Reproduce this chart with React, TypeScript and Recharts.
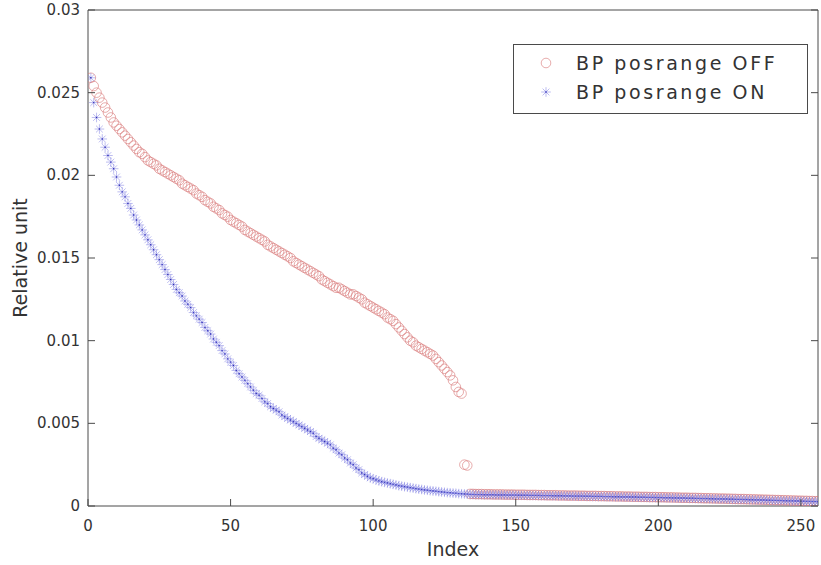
import { Label, Legend, Scatter, ScatterChart, XAxis, YAxis } from 'recharts'

// index 1..256 on the x axis
const offValues = [
  // 1-10
  0.0259, 0.0254, 0.025, 0.0247, 0.0244, 0.0241, 0.0238, 0.0235, 0.0232, 0.023,
  // 11-20
  0.0228, 0.0226, 0.0224, 0.0222, 0.022, 0.0218, 0.0216, 0.0214, 0.0213, 0.0211,
  // 21-30
  0.0209, 0.0208, 0.0207, 0.0206, 0.0204, 0.0203, 0.0202, 0.0201, 0.02, 0.0199,
  // 31-40
  0.0198, 0.0197, 0.0195, 0.0194, 0.0193, 0.0192, 0.0191, 0.0189, 0.0188, 0.0187,
  // 41-50
  0.0185, 0.0184, 0.0183, 0.0181, 0.018, 0.0179, 0.0177, 0.0176, 0.0175, 0.0173,
  // 51-60
  0.0172, 0.0171, 0.017, 0.0169, 0.0167, 0.0166, 0.0165, 0.0164, 0.0163, 0.0162,
  // 61-70
  0.0161, 0.016, 0.0158, 0.0157, 0.0156, 0.0155, 0.0154, 0.0153, 0.0152, 0.0151,
  // 71-80
  0.015, 0.0148, 0.0147, 0.0146, 0.0145, 0.0144, 0.0143, 0.0142, 0.0141, 0.014,
  // 81-90
  0.0139, 0.0137, 0.0136, 0.0135, 0.0134, 0.0133, 0.0132, 0.0132, 0.0131, 0.013,
  // 91-100
  0.0129, 0.0128, 0.0128, 0.0127, 0.0126, 0.0125, 0.0123, 0.0122, 0.0121, 0.012,
  // 101-110
  0.0119, 0.0118, 0.0117, 0.0116, 0.0114, 0.0113, 0.0112, 0.011, 0.0108, 0.0106,
  // 111-120
  0.0104, 0.0102, 0.01, 0.0099, 0.0097, 0.0096, 0.0095, 0.0094, 0.0093, 0.0092,
  // 121-131
  0.0091, 0.0089, 0.0087, 0.0085, 0.0083, 0.0081, 0.0079, 0.0076, 0.0072, 0.0069, 0.0068,
  // 132-133
  0.0025, 0.00245,
  // 134-143
  0.00073, 0.00073, 0.00072, 0.00072, 0.00072, 0.00071, 0.00071, 0.00071, 0.0007, 0.0007,
  // 144-153
  0.0007, 0.0007, 0.00069, 0.00069, 0.00069, 0.00069, 0.00068, 0.00068, 0.00068, 0.00068,
  // 154-163
  0.00067, 0.00067, 0.00067, 0.00067, 0.00066, 0.00066, 0.00066, 0.00065, 0.00065, 0.00065,
  // 164-173
  0.00065, 0.00064, 0.00064, 0.00064, 0.00063, 0.00063, 0.00063, 0.00063, 0.00062, 0.00062,
  // 174-183
  0.00062, 0.00061, 0.00061, 0.00061, 0.00061, 0.0006, 0.0006, 0.0006, 0.00059, 0.00059,
  // 184-193
  0.00059, 0.00058, 0.00058, 0.00058, 0.00057, 0.00057, 0.00057, 0.00056, 0.00056, 0.00056,
  // 194-203
  0.00055, 0.00055, 0.00055, 0.00054, 0.00054, 0.00054, 0.00053, 0.00053, 0.00053, 0.00052,
  // 204-213
  0.00052, 0.00052, 0.00051, 0.00051, 0.0005, 0.0005, 0.0005, 0.00049, 0.00049, 0.00049,
  // 214-223
  0.00048, 0.00048, 0.00047, 0.00047, 0.00047, 0.00046, 0.00046, 0.00045, 0.00045, 0.00045,
  // 224-233
  0.00044, 0.00044, 0.00043, 0.00043, 0.00042, 0.00042, 0.00042, 0.00041, 0.00041, 0.0004,
  // 234-243
  0.0004, 0.00039, 0.00039, 0.00038, 0.00038, 0.00037, 0.00037, 0.00036, 0.00036, 0.00035,
  // 244-253
  0.00035, 0.00034, 0.00034, 0.00033, 0.00033, 0.00032, 0.00032, 0.00031, 0.00031, 0.0003,
  // 254-256
  0.0003, 0.00029, 0.00029,
]

const onValues = [
  // 1-10
  0.0259, 0.0244, 0.0235, 0.0228, 0.0222, 0.0217, 0.0212, 0.0208, 0.0204, 0.0199,
  // 11-20
  0.0194, 0.019, 0.0187, 0.0183, 0.018, 0.0176, 0.0173, 0.017, 0.0167, 0.0164,
  // 21-30
  0.0161, 0.0158, 0.0155, 0.0152, 0.0149, 0.0146, 0.0143, 0.014, 0.0137, 0.0134,
  // 31-40
  0.0131, 0.0129, 0.0127, 0.0124, 0.0122, 0.012, 0.0117, 0.0115, 0.0113, 0.0111,
  // 41-50
  0.0108, 0.0106, 0.0104, 0.0101, 0.0099, 0.0097, 0.0094, 0.0092, 0.0089, 0.0087,
  // 51-60
  0.0085, 0.0082, 0.008, 0.0078, 0.0076, 0.0074, 0.0072, 0.007, 0.0068, 0.0067,
  // 61-70
  0.0065, 0.0063, 0.0062, 0.006, 0.0059, 0.0058, 0.0057, 0.0055, 0.0054, 0.0053,
  // 71-80
  0.0052, 0.0051, 0.005, 0.0049, 0.0048, 0.0047, 0.0046, 0.0045, 0.0044, 0.0042,
  // 81-90
  0.0041, 0.004, 0.0039, 0.0038, 0.0037, 0.0035, 0.0034, 0.0032, 0.0031, 0.0029,
  // 91-100
  0.0028, 0.0026, 0.0025, 0.0023, 0.0022, 0.002, 0.0019, 0.0018, 0.0017, 0.00165,
  // 101-110
  0.00158, 0.00152, 0.00147, 0.00143, 0.00139, 0.00135, 0.00131, 0.00127, 0.00123, 0.0012,
  // 111-120
  0.00117, 0.00114, 0.00111, 0.00108, 0.00105, 0.00102, 0.001, 0.00097, 0.00095, 0.00093,
  // 121-130
  0.00091, 0.00089, 0.00087, 0.00085, 0.00083, 0.00081, 0.0008, 0.00078, 0.00077, 0.00075,
  // 131-133
  0.00074, 0.00073, 0.00072,
  // 134-143
  0.0007, 0.0007, 0.00069, 0.00069, 0.00069, 0.00068, 0.00068, 0.00068, 0.00068, 0.00067,
  // 144-153
  0.00067, 0.00067, 0.00067, 0.00066, 0.00066, 0.00066, 0.00066, 0.00065, 0.00065, 0.00065,
  // 154-163
  0.00065, 0.00064, 0.00064, 0.00064, 0.00064, 0.00063, 0.00063, 0.00063, 0.00063, 0.00062,
  // 164-173
  0.00062, 0.00062, 0.00062, 0.00061, 0.00061, 0.00061, 0.0006, 0.0006, 0.0006, 0.0006,
  // 174-183
  0.00059, 0.00059, 0.00059, 0.00058, 0.00058, 0.00058, 0.00058, 0.00057, 0.00057, 0.00057,
  // 184-193
  0.00056, 0.00056, 0.00056, 0.00055, 0.00055, 0.00055, 0.00054, 0.00054, 0.00054, 0.00053,
  // 194-203
  0.00053, 0.00053, 0.00052, 0.00052, 0.00052, 0.00051, 0.00051, 0.00051, 0.0005, 0.0005,
  // 204-213
  0.0005, 0.00049, 0.00049, 0.00048, 0.00048, 0.00048, 0.00047, 0.00047, 0.00047, 0.00046,
  // 214-223
  0.00046, 0.00045, 0.00045, 0.00045, 0.00044, 0.00044, 0.00043, 0.00043, 0.00043, 0.00042,
  // 224-233
  0.00042, 0.00041, 0.00041, 0.0004, 0.0004, 0.0004, 0.00039, 0.00039, 0.00038, 0.00038,
  // 234-243
  0.00037, 0.00037, 0.00036, 0.00036, 0.00035, 0.00035, 0.00034, 0.00034, 0.00033, 0.00033,
  // 244-253
  0.00032, 0.00032, 0.00031, 0.00031, 0.0003, 0.0003, 0.00029, 0.00029, 0.00028, 0.00028,
  // 254-256
  0.00027, 0.00027, 0.00026,
]

const xTicks = [0, 50, 100, 150, 200, 250]
const yTicks = [0, 0.005, 0.01, 0.015, 0.02, 0.025, 0.03]
const seriesNames = ['BP posrange OFF', 'BP posrange ON']

const offData = offValues.map((v, i) => ({ x: i + 1, y: v }))
const onData = onValues.map((v, i) => ({ x: i + 1, y: v }))

const FONT = '"DejaVu Sans", sans-serif'
const AXIS = '#4a4a4a'
const TEXT = '#333333'
const RED = '#d77373'
const BLUE = '#7a7ae0'

const CircleMark = ({ cx, cy }: any) => (
  <circle cx={cx} cy={cy} r={4.8} fill="none" stroke={RED} strokeWidth={0.6} />
)

const StarMark = ({ cx, cy }: any) => {
  const r = 4.8
  const d = r * 0.707
  return (
    <g stroke={BLUE} strokeWidth={0.5}>
      <line x1={cx - r} y1={cy} x2={cx + r} y2={cy} />
      <line x1={cx} y1={cy - r} x2={cx} y2={cy + r} />
      <line x1={cx - d} y1={cy - d} x2={cx + d} y2={cy + d} />
      <line x1={cx - d} y1={cy + d} x2={cx + d} y2={cy - d} />
      <circle cx={cx} cy={cy} r={0.7} fill="#2b2bb0" stroke="none" />
    </g>
  )
}

const BottomTick = ({ x, y, payload }: any) => (
  <g>
    <line x1={x} y1={y} x2={x} y2={y - 7} stroke={AXIS} />
    <text x={x} y={y + 25} textAnchor="middle" fill={TEXT} fontSize={15} fontFamily={FONT}>
      {payload.value}
    </text>
  </g>
)

const TopTick = ({ x, y }: any) => <line x1={x} y1={y} x2={x} y2={y + 7} stroke={AXIS} />

const LeftTick = ({ x, y, payload }: any) => (
  <g>
    <line x1={x} y1={y} x2={x + 7} y2={y} stroke={AXIS} />
    <text x={x - 8} y={y + 5} textAnchor="end" fill={TEXT} fontSize={15} fontFamily={FONT}>
      {payload.value}
    </text>
  </g>
)

const RightTick = ({ x, y }: any) => <line x1={x} y1={y} x2={x - 7} y2={y} stroke={AXIS} />

const LegendBox = () => (
  <div
    style={{
      width: 295,
      height: 70,
      border: `1px solid ${AXIS}`,
      background: '#fff',
      fontFamily: FONT,
      fontSize: 19,
      letterSpacing: 2.6,
      color: TEXT,
      boxSizing: 'border-box',
      paddingTop: 3,
    }}
  >
    {seriesNames.map((name, i) => (
      <div key={name} style={{ display: 'flex', alignItems: 'center', height: 29 }}>
        <svg width={62} height={20}>
          {i === 0 ? <CircleMark cx={32} cy={10} /> : <StarMark cx={32} cy={10} />}
        </svg>
        <span>{name}</span>
      </div>
    ))}
  </div>
)

export default function App() {
  return (
    <div style={{ position: 'absolute', left: 0, top: 0, width: 821, height: 565, background: '#fff' }}>
      {/* plot box: x 88..818, y 10..506 */}
      <ScatterChart width={821} height={565} margin={{ top: 0, right: 0, bottom: 19, left: 18 }}>
        <XAxis
          type="number"
          dataKey="x"
          domain={[0, 256]}
          ticks={xTicks}
          allowDataOverflow
          height={40}
          tickSize={0}
          tickMargin={0}
          stroke={AXIS}
          tick={<BottomTick />}
        >
          <Label
            content={({ viewBox }: any) => (
              <text
                x={viewBox.x + viewBox.width / 2}
                y={viewBox.y + 50}
                textAnchor="middle"
                fill={TEXT}
                fontSize={19}
                fontFamily={FONT}
              >
                Index
              </text>
            )}
          />
        </XAxis>
        <XAxis
          xAxisId="top"
          orientation="top"
          type="number"
          domain={[0, 256]}
          ticks={xTicks}
          allowDataOverflow
          height={10}
          tickSize={0}
          tickMargin={0}
          stroke={AXIS}
          tick={<TopTick />}
        />
        <YAxis
          type="number"
          dataKey="y"
          domain={[0, 0.03]}
          ticks={yTicks}
          allowDataOverflow
          width={70}
          tickSize={0}
          tickMargin={0}
          stroke={AXIS}
          tick={<LeftTick />}
        >
          <Label
            content={({ viewBox }: any) => {
              const cx = viewBox.x + viewBox.width - 68
              const cy = viewBox.y + viewBox.height / 2
              return (
                <text
                  x={cx}
                  y={cy}
                  transform={`rotate(-90, ${cx}, ${cy})`}
                  textAnchor="middle"
                  dominantBaseline="central"
                  fill={TEXT}
                  fontSize={19}
                  fontFamily={FONT}
                >
                  Relative unit
                </text>
              )
            }}
          />
        </YAxis>
        <YAxis
          yAxisId="right"
          orientation="right"
          type="number"
          domain={[0, 0.03]}
          ticks={yTicks}
          allowDataOverflow
          width={3}
          tickSize={0}
          tickMargin={0}
          stroke={AXIS}
          tick={<RightTick />}
        />
        <Legend
          layout="vertical"
          align="center"
          verticalAlign="middle"
          wrapperStyle={{ left: 513, top: 44, width: 295 }}
          content={() => <LegendBox />}
        />
        <Scatter
          name={seriesNames[0]}
          data={offData}
          shape={<CircleMark />}
          isAnimationActive={false}
        />
        <Scatter
          name={seriesNames[1]}
          data={onData}
          shape={<StarMark />}
          isAnimationActive={false}
        />
      </ScatterChart>
    </div>
  )
}
